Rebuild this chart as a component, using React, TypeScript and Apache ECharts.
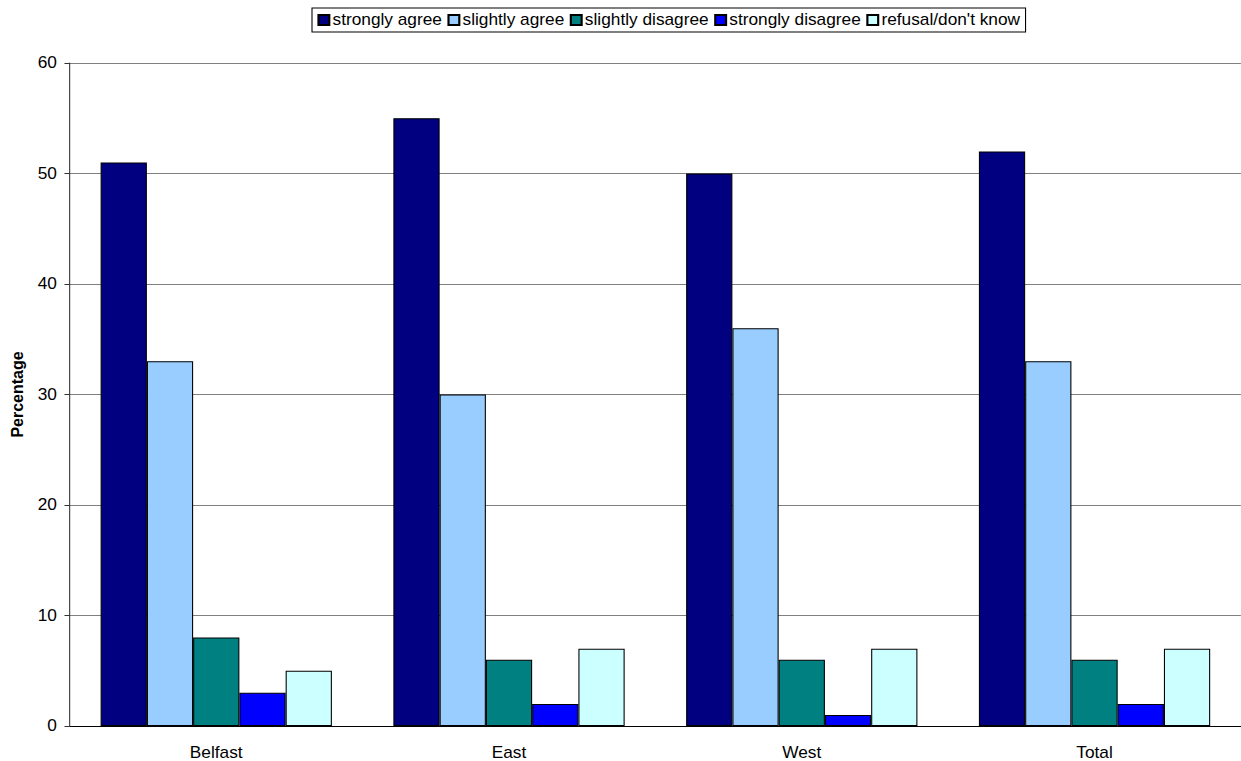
import React, { useEffect, useRef } from "react";
import * as echarts from "echarts";

const categories = ["Belfast", "East", "West", "Total"];
const seriesNames = [
  "strongly agree",
  "slightly agree",
  "slightly disagree",
  "strongly disagree",
  "refusal/don't know",
];
const stronglyAgree = [51, 55, 50, 52];
const slightlyAgree = [33, 30, 36, 33];
const slightlyDisagree = [8, 6, 6, 6];
const stronglyDisagree = [3, 2, 1, 2];
const refusalDontKnow = [5, 7, 7, 7];
const colors = ["#000080", "#99CCFF", "#008080", "#0000FF", "#CCFFFF"];

// the chart is laid out on a narrower canvas and widened with a CSS scaleX
const STRETCH = 1.08;
const PAGE_W = 1241;
const PAGE_H = 761;

export default function App() {
  const ref = useRef<HTMLDivElement>(null);
  useEffect(() => {
    if (!ref.current) return;
    const chart = echarts.init(ref.current, null, { renderer: "svg" });
    const values = [stronglyAgree, slightlyAgree, slightlyDisagree, stronglyDisagree, refusalDontKnow];
    const font = "Liberation Sans, Arial, sans-serif";
    const axisX = 67 / STRETCH;
    const plotW = 1177 / STRETCH;
    chart.setOption({
      animation: false,
      backgroundColor: "#ffffff",
      textStyle: { fontFamily: font },
      legend: {
        left: 312 / STRETCH,
        top: 8,
        itemWidth: 10,
        itemHeight: 10,
        itemGap: 5,
        padding: [4, 5, 4, 5],
        borderColor: "#000000",
        borderWidth: 1,
        icon: "rect",
        textStyle: { fontFamily: font, fontSize: 16, color: "#000", padding: [0, 0, 0, -2] },
        data: seriesNames,
      },
      grid: { left: axisX, width: plotW, top: 63, bottom: 35, containLabel: false },
      xAxis: {
        type: "category",
        data: categories,
        axisLine: { lineStyle: { color: "#000", width: 1 } },
        axisTick: { show: false },
        axisLabel: { color: "#000", fontSize: 16, fontFamily: font, margin: 19 },
      },
      yAxis: {
        type: "value",
        min: 0,
        max: 60,
        interval: 10,
        name: "Percentage",
        nameLocation: "middle",
        nameGap: 38,
        nameTextStyle: { fontWeight: "bold", fontSize: 16, color: "#000", fontFamily: font },
        axisLine: { show: true, lineStyle: { color: "#333", width: 1 } },
        axisTick: { show: true, length: 5, lineStyle: { color: "#333" } },
        axisLabel: { color: "#000", fontSize: 16, fontFamily: font, margin: 12 },
        splitLine: { lineStyle: { color: "#7f7f7f", width: 1 } },
      },
      series: seriesNames.map((name, i) => ({
        name,
        type: "bar",
        data: values[i],
        barGap: "0%",
        barCategoryGap: "21%",
        itemStyle: { color: colors[i], borderColor: "#000", borderWidth: 1 },
      })),
    });
    return () => chart.dispose();
  }, []);
  return (
    <div style={{ position: "absolute", left: 0, top: 0, width: PAGE_W, height: PAGE_H, overflow: "hidden" }}>
      <div
        ref={ref}
        style={{
          width: PAGE_W / STRETCH,
          height: PAGE_H,
          transform: `scaleX(${STRETCH})`,
          transformOrigin: "0 0",
        }}
      />
    </div>
  );
}
